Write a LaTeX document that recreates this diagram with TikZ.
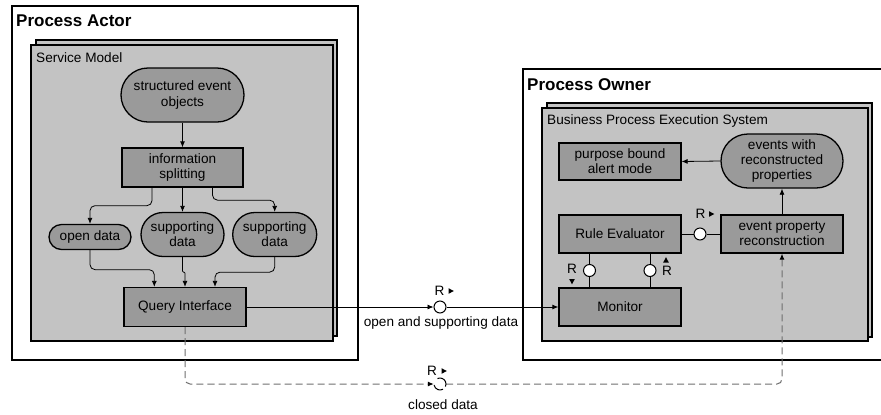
\documentclass[tikz,border=0pt]{standalone}
\usepackage{fontspec}
\setmainfont{Liberation Sans}
\usetikzlibrary{arrows.meta}

\definecolor{panelgray}{HTML}{C3C3C3}
\definecolor{nodegray}{HTML}{9A9A9A}
\definecolor{dashgray}{HTML}{6E6E6E}

\newcommand\normaltext{\fontsize{13.6bp}{15.2bp}\selectfont}
\newcommand\titletext{\fontsize{17bp}{20bp}\selectfont\bfseries}

% small filled pointers next to the channel labels
\newcommand\ptrright[2]{\fill (#1,#2) ++(-2.5,-2.8) -- ++(5.3,2.8) -- ++(-5.3,2.8) -- cycle;}
\newcommand\ptrdown[2]{\fill (#1,#2) ++(-2.8,-2.5) -- ++(5.6,0) -- ++(-2.8,5.3) -- cycle;}
\newcommand\ptrup[2]{\fill (#1,#2) ++(-2.8,2.5) -- ++(5.6,0) -- ++(-2.8,-5.3) -- cycle;}

\begin{document}
\begin{tikzpicture}[x=1bp, y=-1bp,
  frame/.style={draw=black, line width=1.4bp, fill=white},
  panel/.style={draw=black, line width=1.2bp, fill=panelgray},
  proc/.style={draw=black, line width=1.3bp, fill=nodegray, align=center,
               inner sep=0pt, font=\normaltext},
  store/.style={proc, rounded corners=#1},
  title/.style={anchor=west, inner sep=0pt, font=\titletext},
  caption/.style={anchor=west, inner sep=0pt, font=\normaltext},
  lbl/.style={inner sep=0pt, font=\normaltext},
  conn/.style={line width=0.8bp, rounded corners=5bp,
               -{Latex[length=6bp,width=5bp]}},
  link/.style={line width=0.9bp},
  dconn/.style={line width=1bp, draw=dashgray, dash pattern=on 7bp off 4bp,
                rounded corners=5bp, -{Latex[length=6bp,width=5bp,black]}},
  chan/.style={circle, draw=black, line width=1bp, fill=white,
               minimum size=12bp, inner sep=0pt},
]
\useasboundingbox (0,0) rectangle (881,414);

% ---------------- Process Actor ----------------
\draw[frame] (12,6) rectangle (358,360);
\node[title] (actor) at (16,21) {Process Actor};
\draw[panel] (36,40) rectangle (337,336);
\draw[panel] (31,45) rectangle (333,341);
\node[caption] (svc) at (36,58) {Service Model};

\node[store=27bp, minimum width=123bp, minimum height=54bp] (seo) at (182.5,95)
  {structured event\\objects};
\node[proc, minimum width=121bp, minimum height=39bp] (split) at (182.5,167.5)
  {information\\splitting};
\node[store=12.5bp, minimum width=82bp, minimum height=25bp] (open) at (90,237)
  {open data};
\node[store=22bp, minimum width=83bp, minimum height=44bp] (sup1) at (182.5,234.5)
  {supporting\\data};
\node[store=22bp, minimum width=84bp, minimum height=44bp] (sup2) at (274.7,234.5)
  {supporting\\data};
\node[proc, minimum width=122bp, minimum height=39bp] (qi) at (185,307)
  {Query Interface};

\draw[conn] (seo.south) -- (split.north);
\draw[conn] ([xshift=-30.5bp]split.south) -- ++(0,18) -| (open.north);
\draw[conn] (split.south) -- (sup1.north);
\draw[conn] ([xshift=30bp]split.south) -- ++(0,12.5) -| (sup2.north);
\draw[conn] (open.south) -- ++(0,19.5) -| ([xshift=-30.7bp]qi.north);
\draw[conn, rounded corners=1bp] (sup1.south) -- ++(0,15) -| (qi.north);
\draw[conn] (sup2.south) -- ++(0,15) -| ([xshift=30bp]qi.north);

% ---------------- Process Owner ----------------
\draw[frame] (523,69) rectangle (895,360);
\node[title] (owner) at (527,85) {Process Owner};
\draw[panel] (547,103) rectangle (872,337);
\draw[panel] (542,108) rectangle (868,341);
\node[caption] (bpes) at (547,121) {Business Process Execution System};

\node[proc, minimum width=122bp, minimum height=37bp] (pbam) at (620,161.5)
  {purpose bound\\alert mode};
\node[store=27bp, minimum width=122bp, minimum height=54bp] (ewr) at (782,161)
  {events with\\reconstructed\\properties};
\node[proc, minimum width=122bp, minimum height=38bp] (re) at (620,234)
  {Rule Evaluator};
\node[proc, minimum width=122bp, minimum height=38bp] (epr) at (782,234)
  {event property\\reconstruction};
\node[proc, minimum width=122bp, minimum height=38bp] (mon) at (620,307)
  {Monitor};

\draw[conn] (epr.north) -- (ewr.south);
\draw[conn] (ewr.west) -- (pbam.east);

% request channel between Rule Evaluator and reconstruction
\node[chan] (ch2) at (700,234) {};
\draw[link] (re.east) -- (ch2.west);
\draw[link] (ch2.east) -- (epr.west);
\node[lbl] (r2) at (700.5,214) {R};
\ptrright{711.5}{214}

% request channels between Rule Evaluator and Monitor
\node[chan] (ch3) at (589.5,270.5) {};
\node[chan] (ch4) at (650,270.5) {};
\draw[link] (ch3 |- re.south) -- (ch3.north);
\draw[link] (ch3.south) -- (ch3 |- mon.north);
\draw[link] (ch4 |- re.south) -- (ch4.north);
\draw[link] (ch4.south) -- (ch4 |- mon.north);
\node[lbl] (r3) at (572,269) {R};
\ptrdown{572}{281.5}
\node[lbl] (r4) at (667,271) {R};
\ptrup{666}{260}

% ---------------- channels between the two sides ----------------
\node[chan] (ch1) at (440,307) {};
\draw[conn] (qi.east) -- (ch1.west);
\draw[conn] (ch1.east) -- (mon.west);
\node[lbl] (r1) at (439.5,290.5) {R};
\ptrright{451}{291}
\node[lbl] (osd) at (441,323) {open and supporting data};

\node[inner sep=0pt, minimum size=12bp] (ch5) at (440,384) {};
\draw[dconn] (qi.south) |- (ch5.west);
\draw[dconn] (ch5.east) -| (epr.south);
\draw[line width=1bp] ([shift={(115:6bp)}]ch5.center) arc[start angle=115, end angle=-25, radius=6bp];
\draw[line width=1bp] ([shift={(190:6bp)}]ch5.center) arc[start angle=190, end angle=300, radius=6bp];
\node[lbl] (r5) at (432,371) {R};
\ptrright{444}{371}
\node[lbl] (cld) at (443,405) {closed data};

\end{tikzpicture}
\end{document}
